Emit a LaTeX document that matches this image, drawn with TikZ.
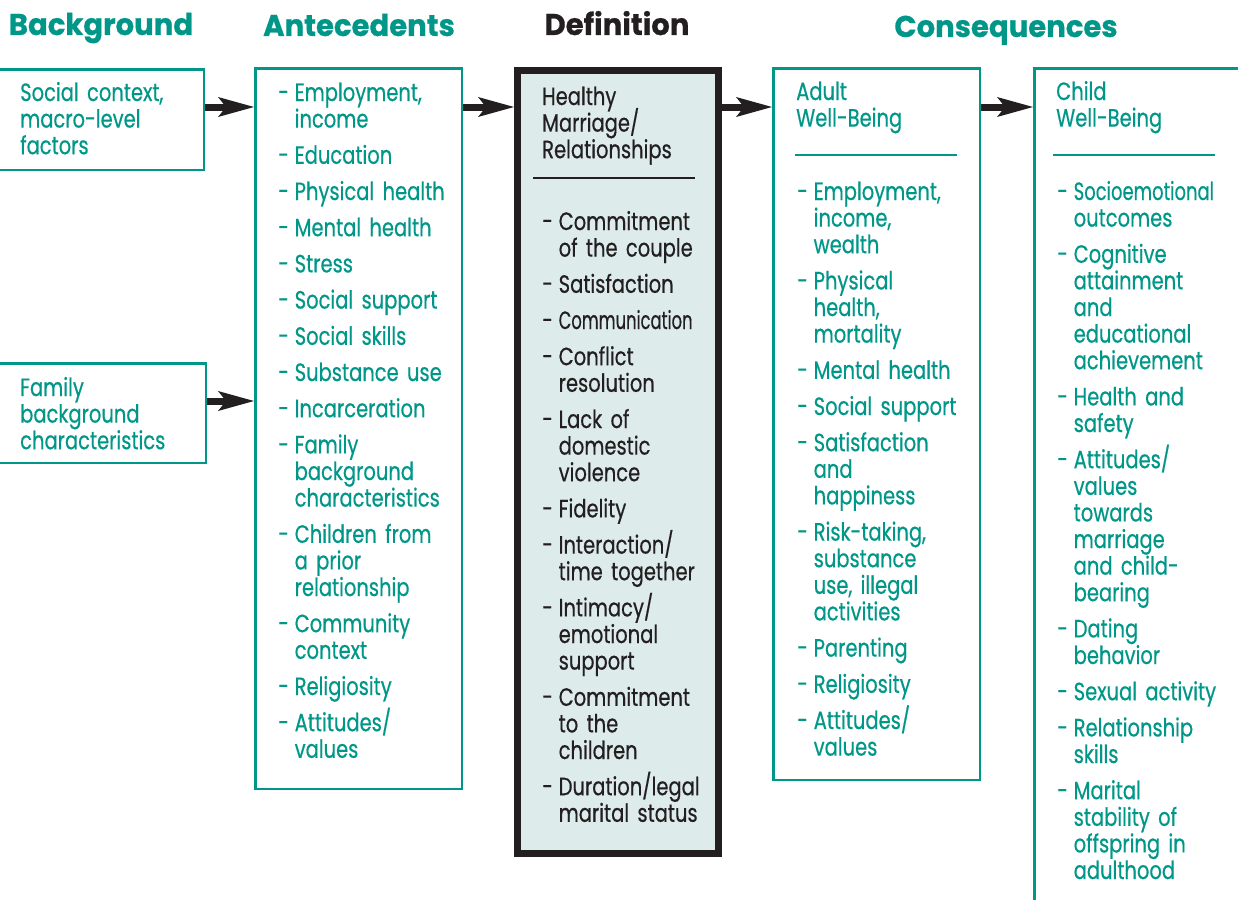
\documentclass[tikz,border=0pt]{standalone}
\usepackage{fontspec}
\setmainfont{Poppins}[FakeStretch=0.78, FakeBold=0.5]
\newfontfamily\titlefont{Poppins}[FakeStretch=0.97, BoldFeatures={FakeBold=0.6}]
\usepackage{xcolor}
\usetikzlibrary{arrows.meta, positioning}
\definecolor{chartteal}{RGB}{0,150,136}
\definecolor{chartdark}{RGB}{35,31,32}
\definecolor{chartfill}{RGB}{221,236,235}
\newcommand{\listfont}{\fontsize{25pt}{26.6pt}\selectfont\lineskiplimit=-50pt\relax}
\newcommand{\itm}[1]{{\let\\\newline\hangindent=16.5pt\hangafter=1\noindent
    \makebox[16.5pt][l]{-}#1\par}\vspace{9.6pt}}
\tikzset{
    tealbox/.style={rectangle, draw=chartteal, line width=2.5pt, inner sep=0pt, anchor=north west},
    defbox/.style={rectangle, draw=chartdark, fill=chartfill, line width=7pt, inner sep=0pt, anchor=north west},
    headtitle/.style={anchor=base, inner sep=0pt, text=chartteal, font=\titlefont\fontsize{30pt}{32pt}\selectfont\bfseries},
    listtext/.style={anchor=base west, inner sep=0pt, text width=300pt, align=left, text=chartteal, font=\listfont},
    tealrule/.style={draw=chartteal, line width=2.5pt},
    darkrule/.style={draw=chartdark, line width=2.5pt},
    bigarrow/.style={-{Stealth[length=36pt, width=20pt, inset=8pt, line width=0pt]}, line width=7pt, draw=chartdark},
}

\begin{document}
\begin{tikzpicture}[x=1pt, y=-1pt]
    \useasboundingbox (0,0) rectangle (1238,899);

    % column titles
    \node[headtitle] (bgtitle) at (101,35) {Background};
    \node[headtitle] (antetitle) at (359,36) {Antecedents};
    \node[headtitle, text=chartdark] (deftitle) at (617,35) {Definition};
    \node[headtitle] (constitle) at (1006,37) {Consequences};

    % background
    \node[tealbox, minimum width=212.5pt, minimum height=100.5pt] (social) at (-10,68) {};
    \node[listtext] (socialtext) at (20,101) {Social context,\\macro-level\\factors};
    \node[tealbox, minimum width=214.5pt, minimum height=99.5pt] (family) at (-10,362) {};
    \node[listtext] (familytext) at (20,396) {Family\\background\\characteristics};

    % antecedents
    \node[tealbox, minimum width=206.5pt, minimum height=720.5pt] (ante) at (254,67) {};
    \node[listtext] (antelist) at (278,101) {%
        \itm{Employment,\\income}\itm{Education}\itm{Physical health}\itm{Mental health}%
        \itm{Stress}\itm{Social support}\itm{Social skills}\itm{Substance use}%
        \itm{Incarceration}\itm{Family\\background\\characteristics}%
        \itm{Children from\\a prior\\relationship}\itm{Community\\context}%
        \itm{Religiosity}\itm{Attitudes/\\values}};

    % definition
    \node[defbox, minimum width=201pt, minimum height=783pt] (def) at (514,67) {};
    \node[listtext, text=chartdark] (defhead) at (542,105) {Healthy\\Marriage/\\Relationships};
    \draw[darkrule] (533,178) -- (695,178);
    \node[listtext, text=chartdark] (deflist) at (542,230) {%
        \itm{Commitment\\of the couple}\itm{Satisfaction}\itm{\scalebox{0.84}[1]{Communication}}%
        \itm{Conflict\\resolution}\itm{Lack of\\domestic\\violence}\itm{Fidelity}%
        \itm{Interaction/\\time together}\itm{Intimacy/\\emotional\\support}%
        \itm{Commitment\\to the\\children}\itm{Duration/legal\\marital status}};

    % consequences
    \node[tealbox, minimum width=206.5pt, minimum height=711.5pt] (adult) at (772,67) {};
    \node[listtext] (adulthead) at (796,100) {Adult\\Well-Being};
    \draw[tealrule] (795,155) -- (957,155);
    \node[listtext] (adultlist) at (797,200) {%
        \itm{Employment,\\income,\\wealth}\itm{Physical\\health,\\mortality}%
        \itm{Mental health}\itm{Social support}\itm{Satisfaction\\and\\happiness}%
        \itm{Risk-taking,\\substance\\use, illegal\\activities}\itm{Parenting}%
        \itm{Religiosity}\itm{Attitudes/\\values}};

    \node[tealbox, minimum width=234.5pt, minimum height=890.5pt] (child) at (1033,67) {};
    \node[listtext] (childhead) at (1056,100) {Child\\Well-Being};
    \draw[tealrule] (1053,155) -- (1215,155);
    \node[listtext] (childlist) at (1057,200) {%
        \itm{\scalebox{0.92}[1]{Socioemotional}\\outcomes}\itm{Cognitive\\attainment\\and\\educational\\achievement}%
        \itm{Health and\\safety}\itm{Attitudes/\\values\\towards\\marriage\\and child-\\bearing}%
        \itm{Dating\\behavior}\itm{Sexual activity}\itm{Relationship\\skills}%
        \itm{Marital\\stability of\\offspring in\\adulthood}};

    % arrows
    \coordinate (socialout) at ([yshift=-39pt]social.north east);
    \coordinate (familyout) at ([yshift=-39pt]family.north east);
    \draw[bigarrow] (socialout) -- (socialout -| ante.west);
    \draw[bigarrow] (familyout) -- (familyout -| ante.west);
    \draw[bigarrow] ([yshift=-40pt]ante.north east) -- ([yshift=-40pt]def.north west);
    \draw[bigarrow] ([yshift=-40pt]def.north east) -- ([yshift=-40pt]adult.north west);
    \draw[bigarrow] ([yshift=-40pt]adult.north east) -- ([yshift=-40pt]child.north west);
\end{tikzpicture}
\end{document}
